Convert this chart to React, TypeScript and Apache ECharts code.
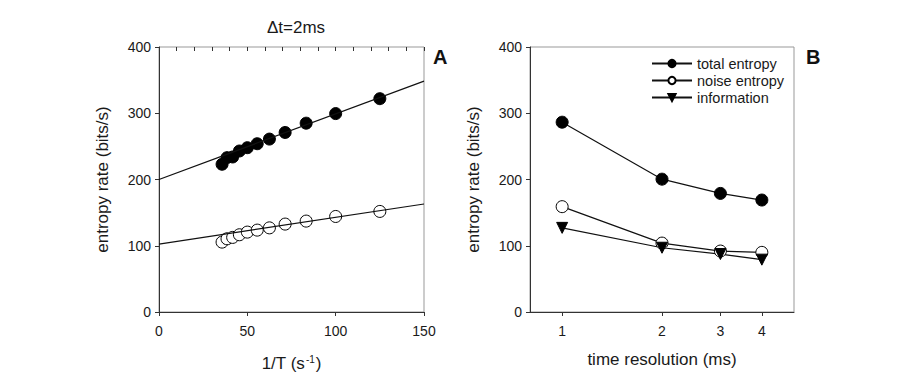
import React, { useEffect, useRef } from "react";
import * as echarts from "echarts";

// Panel A data
const invT = [35.7, 38.5, 41.7, 45.5, 50, 55.6, 62.5, 71.4, 83.3, 100, 125];
const totalA = [223, 233, 234, 243, 248, 254, 261, 271, 285, 299.5, 322];
const noiseA = [105.5, 110.5, 112.6, 116.6, 120.6, 123.6, 127, 132.7, 137.2, 144.2, 151.8];
const fitX = [0, 150];
const totalFit = [200, 348.5];
const noiseFit = [102.5, 163];

// Panel B data
const timeRes = [1, 2, 3, 4];
const totalB = [286.5, 200.5, 179, 169];
const noiseB = [159, 104, 92, 90];
const infoB = [127, 97, 87.5, 79];

const yTicks = [0, 100, 200, 300, 400];
const xTicksA = [0, 50, 100, 150];

const FONT = "'Liberation Sans', Arial, Helvetica, sans-serif";
const TXT = "#1a1a1a";

export default function App() {
  const ref = useRef<HTMLDivElement>(null);
  useEffect(() => {
    if (!ref.current) return;
    const chart = echarts.init(ref.current, null, { renderer: "svg" });
    const pairs = (xs: number[], ys: number[]) => xs.map((x, i) => [x, ys[i]]);
    const axisLine = { show: true, lineStyle: { color: "#333", width: 1 } };
    const yAxisBase = (idx: number) => ({
      type: "value",
      gridIndex: idx,
      min: yTicks[0],
      max: yTicks[yTicks.length - 1],
      interval: 100,
      name: "entropy rate (bits/s)",
      nameLocation: "middle",
      nameGap: 48,
      nameTextStyle: { fontFamily: FONT, fontSize: 17, color: TXT },
      axisLine,
      axisTick: { show: true, length: 4, lineStyle: { color: "#333" } },
      axisLabel: { fontFamily: FONT, fontSize: 14, color: TXT, margin: 8 },
      splitLine: { show: false },
    });
    const option: any = {
      animation: false,
      backgroundColor: "#fff",
      textStyle: { fontFamily: FONT },
      grid: [
        { left: 159, top: 47, width: 265, height: 265, show: true, borderColor: "#999", borderWidth: 1, backgroundColor: "transparent" },
        { left: 530, top: 47, width: 264, height: 265, show: true, borderColor: "#999", borderWidth: 1, backgroundColor: "transparent" },
      ],
      title: {
        text: "\u0394t=2ms",
        left: 291,
        top: 14,
        textAlign: "center",
        textStyle: { fontFamily: FONT, fontSize: 17, fontWeight: "normal", color: TXT },
      },
      graphic: [
        { type: "text", left: 433, top: 47, style: { text: "A", fontFamily: FONT, fontSize: 20, fontWeight: "bold", fill: "#111" } },
        { type: "text", left: 806, top: 47, style: { text: "B", fontFamily: FONT, fontSize: 20, fontWeight: "bold", fill: "#111" } },
      ],
      legend: {
        left: 646,
        top: 51,
        orient: "vertical",
        itemWidth: 40,
        itemHeight: 9,
        itemGap: 2,
        textStyle: { fontFamily: FONT, fontSize: 14.5, color: TXT },
        data: ["total entropy", "noise entropy", "information"],
      },
      xAxis: [
        {
          type: "value",
          gridIndex: 0,
          min: xTicksA[0],
          max: xTicksA[xTicksA.length - 1],
          interval: 50,
          name: "{n|1/T (s}{s|-1}{n|)}",
          nameLocation: "middle",
          nameGap: 42,
          nameTextStyle: {
            rich: {
              n: { fontFamily: FONT, fontSize: 17, color: TXT, verticalAlign: "bottom" },
              s: { fontFamily: FONT, fontSize: 10, color: TXT, verticalAlign: "top", padding: [0, 1, 8, 1] },
            },
          },
          axisLine,
          axisTick: { show: true, length: 4, lineStyle: { color: "#333" } },
          axisLabel: { fontFamily: FONT, fontSize: 14, color: TXT, margin: 12 },
          splitLine: { show: false },
        },
        {
          type: "value",
          gridIndex: 0,
          min: 0,
          max: 150,
          interval: 10,
          axisLine: { show: false },
          axisTick: { show: true, inside: true, length: 4, lineStyle: { color: "#333" } },
          axisLabel: { show: false },
          splitLine: { show: false },
        },
        {
          type: "log",
          logBase: 10,
          gridIndex: 1,
          min: 0.8,
          max: 5,
          name: "time resolution (ms)",
          nameLocation: "middle",
          nameGap: 39,
          nameTextStyle: { fontFamily: FONT, fontSize: 17, color: TXT },
          axisLine,
          axisTick: { show: true, length: 4, customValues: timeRes, lineStyle: { color: "#333" } },
          axisLabel: { fontFamily: FONT, fontSize: 14, color: TXT, margin: 12, customValues: timeRes },
          splitLine: { show: false },
          minorTick: { show: false },
        },
      ],
      yAxis: [yAxisBase(0), yAxisBase(1)],
      series: [
        {
          type: "line",
          xAxisIndex: 0,
          yAxisIndex: 0,
          data: pairs(fitX, totalFit),
          showSymbol: false,
          lineStyle: { color: "#111", width: 1.2 },
          silent: true,
        },
        {
          type: "line",
          xAxisIndex: 0,
          yAxisIndex: 0,
          data: pairs(fitX, noiseFit),
          showSymbol: false,
          lineStyle: { color: "#111", width: 1.2 },
          silent: true,
        },
        {
          type: "scatter",
          xAxisIndex: 0,
          yAxisIndex: 0,
          data: pairs(invT, totalA),
          symbol: "circle",
          symbolSize: 12,
          itemStyle: { color: "#000", borderColor: "#000", borderWidth: 1, opacity: 1 },
        },
        {
          type: "scatter",
          xAxisIndex: 0,
          yAxisIndex: 0,
          data: pairs(invT, noiseA),
          symbol: "circle",
          symbolSize: 12,
          itemStyle: { color: "#fff", borderColor: "#000", borderWidth: 1, opacity: 1 },
        },
        {
          name: "total entropy",
          type: "line",
          xAxisIndex: 2,
          yAxisIndex: 1,
          data: pairs(timeRes, totalB),
          symbol: "circle",
          symbolSize: 12,
          showSymbol: true,
          lineStyle: { color: "#111", width: 1.2 },
          itemStyle: { color: "#000", borderColor: "#000", borderWidth: 1 },
        },
        {
          name: "noise entropy",
          type: "line",
          xAxisIndex: 2,
          yAxisIndex: 1,
          data: pairs(timeRes, noiseB),
          symbol: "circle",
          symbolSize: 12,
          showSymbol: true,
          lineStyle: { color: "#111", width: 1.2 },
          itemStyle: { color: "#fff", borderColor: "#000", borderWidth: 1 },
        },
        {
          name: "information",
          type: "line",
          xAxisIndex: 2,
          yAxisIndex: 1,
          data: pairs(timeRes, infoB),
          symbol: "triangle",
          symbolRotate: 180,
          symbolSize: 11,
          showSymbol: true,
          lineStyle: { color: "#111", width: 1.2 },
          itemStyle: { color: "#000", borderColor: "#000", borderWidth: 1 },
        },
      ],
    };
    chart.setOption(option);
    return () => chart.dispose();
  }, []);
  return (
    <div
      ref={ref}
      style={{ position: "fixed", left: 0, top: 0, width: 900, height: 384, background: "#fff" }}
    />
  );
}
